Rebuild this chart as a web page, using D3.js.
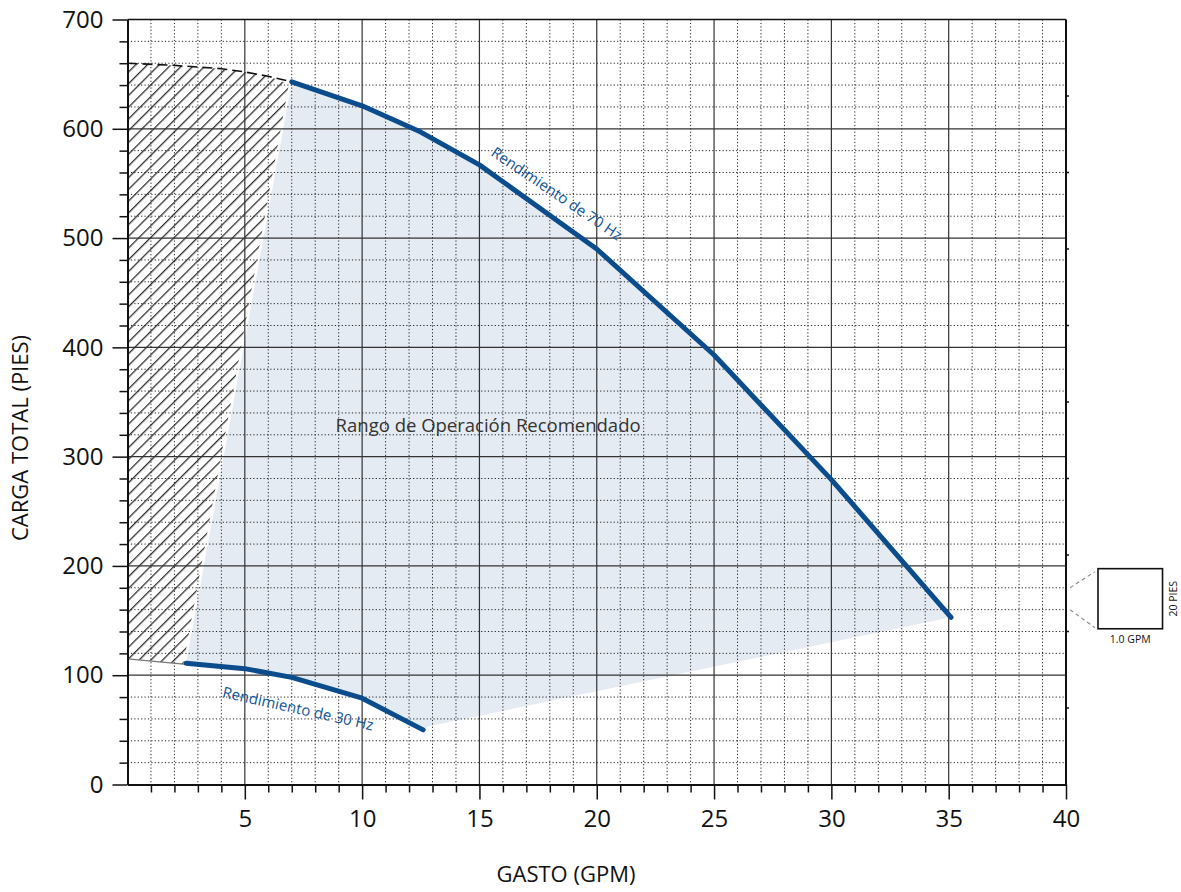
<!DOCTYPE html>
<html>
<head>
<meta charset="utf-8">
<script src="https://cdn.jsdelivr.net/npm/d3@7"></script>
<style>
  html, body { margin: 0; padding: 0; background: #fff; }
  svg { display: block; font-family: 'Open Sans', sans-serif; }
</style>
</head>
<body>
<svg id="chart"></svg>
<script>
// curve data (GPM, feet)
const hz70Gpm = [7, 10, 12.5, 15, 20, 25, 30, 35.1];
const hz70Head = [643, 621, 597, 567, 490, 393, 279, 153];
const hz30Gpm = [2.5, 5, 7, 10, 12.6];
const hz30Head = [111, 106, 98, 79, 50];

// lower edge of the recommended range (from 70 Hz end back to 30 Hz end)
const rangeLowGpm = [35.1, 12.8];
const rangeLowHead = [153, 53];

// hatched zone: top dashed limit and bottom edge
const hatchTopGpm = [0, 2, 4, 5, 6, 7];
const hatchTopHead = [660, 658, 655, 652, 648, 643];
const hatchBottomGpm = [0, 2.5];
const hatchBottomHead = [115, 110];

const xMajor = [5, 10, 15, 20, 25, 30, 35, 40];
const yMajor = [0, 100, 200, 300, 400, 500, 600, 700];
const rightTicks = [70, 140, 210, 280, 350, 420, 490, 560, 630];

const svgWidth = 1181;
const svgHeight = 892;

const svg = d3.select('#chart')
  .attr('width', svgWidth)
  .attr('height', svgHeight);

const x = d3.scaleLinear().domain([0, 40]).range([127.5, 1066]);
const y = d3.scaleLinear().domain([0, 700]).range([784.5, 19.5]);

const xMinor = d3.range(1, 40).filter(v => v % 5 !== 0);
const yMinor = d3.range(20, 700, 20).filter(v => v % 100 !== 0);

const zip = (a, b) => a.map((v, i) => [v, b[i]]);
const hz70 = zip(hz70Gpm, hz70Head);
const hz30 = zip(hz30Gpm, hz30Head);

const line = d3.line().x(d => x(d[0])).y(d => y(d[1]));

// hatch pattern
const defs = svg.append('defs');
defs.append('pattern')
  .attr('id', 'hatch')
  .attr('patternUnits', 'userSpaceOnUse')
  .attr('width', 8.3)
  .attr('height', 8.3)
  .attr('patternTransform', 'rotate(45)')
  .append('line')
  .attr('x1', 0.7).attr('y1', 0)
  .attr('x2', 0.7).attr('y2', 8.3)
  .attr('stroke', '#000')
  .attr('stroke-width', 1.05);

// recommended range shading
const rangePoly = hz70
  .concat(zip(rangeLowGpm, rangeLowHead).slice(1))
  .concat(hz30.slice().reverse());
svg.append('path')
  .attr('d', line(rangePoly) + 'Z')
  .attr('fill', '#e5ebf2');

// hatched zone, stops a little short of the shaded edge
const hatchPoly = [[hatchBottomGpm[0], hatchBottomHead[0]], [hatchBottomGpm[1] - 0.12, hatchBottomHead[1]]]
  .concat([[hz70Gpm[0] - 0.12, hz70Head[0] - 2]])
  .concat(zip(hatchTopGpm, hatchTopHead).slice(0, -1).reverse());
svg.append('path')
  .attr('d', line(hatchPoly) + 'Z')
  .attr('fill', 'url(#hatch)');

// grid
const grid = svg.append('g');
grid.selectAll('.vminor').data(xMinor).enter().append('line')
  .attr('x1', d => x(d)).attr('x2', d => x(d))
  .attr('y1', y(700)).attr('y2', y(0))
  .attr('stroke', '#222').attr('stroke-width', 1)
  .attr('stroke-dasharray', '1.2,2.2');
grid.selectAll('.hminor').data(yMinor).enter().append('line')
  .attr('x1', x(0)).attr('x2', x(40))
  .attr('y1', d => y(d)).attr('y2', d => y(d))
  .attr('stroke', '#222').attr('stroke-width', 1)
  .attr('stroke-dasharray', '1.2,2.2');
grid.selectAll('.vmajor').data(xMajor.filter(v => v < 40)).enter().append('line')
  .attr('x1', d => x(d)).attr('x2', d => x(d))
  .attr('y1', y(700)).attr('y2', y(0))
  .attr('stroke', '#333').attr('stroke-width', 1.2);
grid.selectAll('.hmajor').data(yMajor.filter(v => v > 0 && v < 700)).enter().append('line')
  .attr('x1', x(0)).attr('x2', x(40))
  .attr('y1', d => y(d)).attr('y2', d => y(d))
  .attr('stroke', '#333').attr('stroke-width', 1.2);

// hatch edges
svg.append('path')
  .attr('d', line(zip(hatchTopGpm, hatchTopHead)))
  .attr('fill', 'none')
  .attr('stroke', '#111')
  .attr('stroke-width', 1.6)
  .attr('stroke-dasharray', '10,5');
svg.append('path')
  .attr('d', line(zip(hatchBottomGpm, hatchBottomHead)))
  .attr('fill', 'none')
  .attr('stroke', '#777')
  .attr('stroke-width', 1.2);

// border top / right
svg.append('line')
  .attr('x1', x(0)).attr('x2', x(40))
  .attr('y1', y(700)).attr('y2', y(700))
  .attr('stroke', '#111').attr('stroke-width', 1.6);
svg.append('line')
  .attr('x1', x(40)).attr('x2', x(40))
  .attr('y1', y(700)).attr('y2', y(0))
  .attr('stroke', '#111').attr('stroke-width', 2);
svg.selectAll('.rtick').data(rightTicks).enter().append('line')
  .attr('x1', x(40)).attr('x2', x(40) + 3)
  .attr('y1', d => y(d)).attr('y2', d => y(d))
  .attr('stroke', '#111').attr('stroke-width', 1.5);

// axes
const yAxisMinor = d3.axisLeft(y).tickValues(yMinor).tickSize(8).tickFormat('').tickSizeOuter(0);
const yAxis = d3.axisLeft(y).tickValues(yMajor).tickSize(15).tickPadding(9).tickSizeOuter(0);
const xAxisMinor = d3.axisBottom(x).tickValues(xMinor).tickSize(8).tickFormat('').tickSizeOuter(0);
const xAxis = d3.axisBottom(x).tickValues(xMajor).tickSize(15).tickPadding(10).tickSizeOuter(0);

svg.append('g').attr('transform', `translate(${x(0)},0)`).call(yAxisMinor);
svg.append('g').attr('transform', `translate(${x(0)},0)`).call(yAxis);
svg.append('g').attr('transform', `translate(0,${y(0)})`).call(xAxisMinor);
svg.append('g').attr('transform', `translate(0,${y(0)})`).call(xAxis);

svg.selectAll('.domain').attr('stroke', '#111').attr('stroke-width', 2);
svg.selectAll('.tick line').attr('stroke', '#111').attr('stroke-width', 1.5);
svg.selectAll('.tick text')
  .attr('font-family', "'Open Sans', sans-serif")
  .attr('font-size', 24)
  .attr('fill', '#111');

// performance curves
svg.append('path')
  .attr('d', line(hz70))
  .attr('fill', 'none')
  .attr('stroke', '#0b4d8c')
  .attr('stroke-width', 5)
  .attr('stroke-linecap', 'round')
  .attr('stroke-linejoin', 'round');
svg.append('path')
  .attr('d', line(hz30))
  .attr('fill', 'none')
  .attr('stroke', '#0b4d8c')
  .attr('stroke-width', 5)
  .attr('stroke-linecap', 'round')
  .attr('stroke-linejoin', 'round');

// labels
svg.append('text')
  .attr('x', x(15.37))
  .attr('y', y(323))
  .attr('text-anchor', 'middle')
  .attr('font-size', 18.5)
  .attr('fill', '#333')
  .text('Rango de Operación Recomendado');

svg.append('text')
  .attr('transform', `translate(${x(15.45)},${y(576)}) rotate(34)`)
  .attr('font-size', 15)
  .attr('fill', '#125598')
  .text('Rendimiento de 70 Hz');

svg.append('text')
  .attr('transform', `translate(${x(4.02)},${y(80)}) rotate(12.5)`)
  .attr('font-size', 15)
  .attr('fill', '#125598')
  .text('Rendimiento de 30 Hz');

svg.append('text')
  .attr('x', 566)
  .attr('y', 882)
  .attr('text-anchor', 'middle')
  .attr('font-size', 22)
  .attr('fill', '#111')
  .text('GASTO (GPM)');

svg.append('text')
  .attr('transform', 'translate(28,438) rotate(-90)')
  .attr('text-anchor', 'middle')
  .attr('font-size', 22)
  .attr('fill', '#111')
  .text('CARGA TOTAL (PIES)');

// magnified grid cell key
const mag = 2.75;
const cellW = x(1) - x(0);
const cellH = y(160) - y(180);
const boxX = x(40) + 32;
const boxCy = (y(160) + y(180)) / 2;
const boxW = cellW * mag;
const boxH = cellH * mag;
const boxY = boxCy - boxH / 2;

svg.append('line')
  .attr('x1', x(40) + 4).attr('y1', y(180))
  .attr('x2', boxX - 3).attr('y2', boxY + 3)
  .attr('stroke', '#888').attr('stroke-width', 1.1)
  .attr('stroke-dasharray', '4,3');
svg.append('line')
  .attr('x1', x(40) + 4).attr('y1', y(160))
  .attr('x2', boxX - 3).attr('y2', boxY + boxH - 1)
  .attr('stroke', '#888').attr('stroke-width', 1.1)
  .attr('stroke-dasharray', '4,3');
svg.append('rect')
  .attr('x', boxX).attr('y', boxY)
  .attr('width', boxW).attr('height', boxH)
  .attr('fill', '#fff')
  .attr('stroke', '#111')
  .attr('stroke-width', 1.6);
svg.append('text')
  .attr('x', boxX + boxW / 2)
  .attr('y', boxY + boxH + 14)
  .attr('text-anchor', 'middle')
  .attr('font-size', 10.5)
  .attr('fill', '#111')
  .text('1.0 GPM');
svg.append('text')
  .attr('transform', `translate(${boxX + boxW + 14},${boxCy}) rotate(-90)`)
  .attr('text-anchor', 'middle')
  .attr('font-size', 10.5)
  .attr('fill', '#111')
  .text('20 PIES');
</script>
</body>
</html>
